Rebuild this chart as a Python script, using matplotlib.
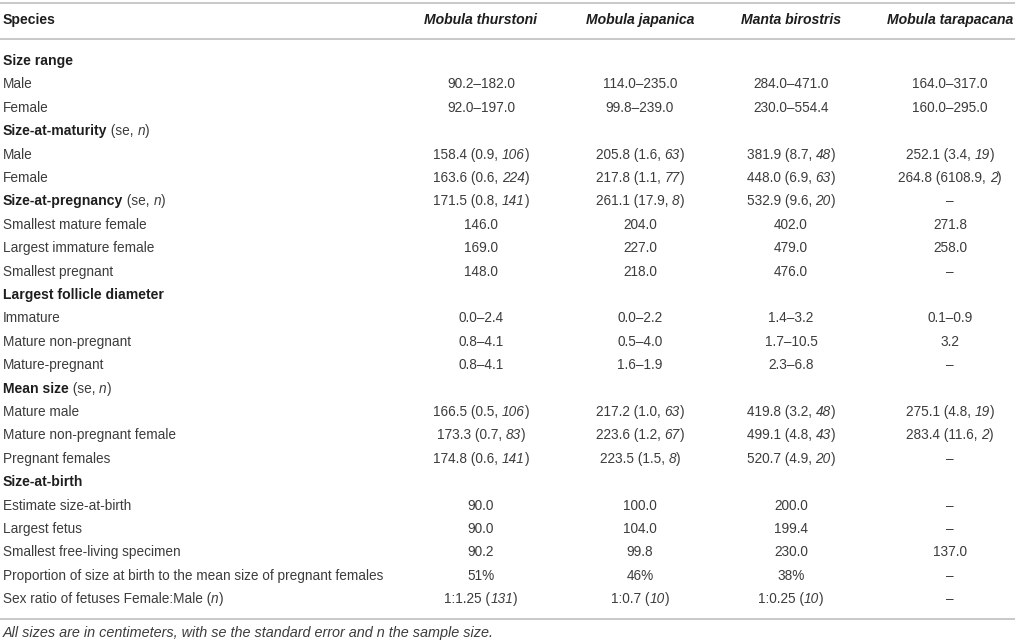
import re
import matplotlib.pyplot as plt

plt.rcParams['font.family'] = ['Liberation Sans', 'DejaVu Sans']

# markup: *bold*  _italic_
species = ["Mobula thurstoni", "Mobula japanica", "Manta birostris", "Mobula tarapacana"]

row_labels = [
    "*Size range*", "Male", "Female",
    "*Size-at-maturity* (se, _n_)", "Male", "Female",
    "*Size-at-pregnancy* (se, _n_)", "Smallest mature female",
    "Largest immature female", "Smallest pregnant",
    "*Largest follicle diameter*", "Immature", "Mature non-pregnant",
    "Mature-pregnant",
    "*Mean size* (se, _n_)", "Mature male", "Mature non-pregnant female",
    "Pregnant females",
    "*Size-at-birth*", "Estimate size-at-birth", "Largest fetus",
    "Smallest free-living specimen",
    "Proportion of size at birth to the mean size of pregnant females",
    "Sex ratio of fetuses Female:Male (_n_)",
]

thurstoni = ["", "90.2–182.0", "92.0–197.0", "", "158.4 (0.9, _106_)",
             "163.6 (0.6, _224_)", "171.5 (0.8, _141_)", "146.0", "169.0",
             "148.0", "", "0.0–2.4", "0.8–4.1", "0.8–4.1", "",
             "166.5 (0.5, _106_)", "173.3 (0.7, _83_)", "174.8 (0.6, _141_)",
             "", "90.0", "90.0", "90.2", "51%", "1:1.25 (_131_)"]
japanica = ["", "114.0–235.0", "99.8–239.0", "", "205.8 (1.6, _63_)",
            "217.8 (1.1, _77_)", "261.1 (17.9, _8_)", "204.0", "227.0",
            "218.0", "", "0.0–2.2", "0.5–4.0", "1.6–1.9", "",
            "217.2 (1.0, _63_)", "223.6 (1.2, _67_)", "223.5 (1.5, _8_)",
            "", "100.0", "104.0", "99.8", "46%", "1:0.7 (_10_)"]
birostris = ["", "284.0–471.0", "230.0–554.4", "", "381.9 (8.7, _48_)",
             "448.0 (6.9, _63_)", "532.9 (9.6, _20_)", "402.0", "479.0",
             "476.0", "", "1.4–3.2", "1.7–10.5", "2.3–6.8", "",
             "419.8 (3.2, _48_)", "499.1 (4.8, _43_)", "520.7 (4.9, _20_)",
             "", "200.0", "199.4", "230.0", "38%", "1:0.25 (_10_)"]
tarapacana = ["", "164.0–317.0", "160.0–295.0", "", "252.1 (3.4, _19_)",
              "264.8 (6108.9, _2_)", "–", "271.8", "258.0", "–", "",
              "0.1–0.9", "3.2", "–", "", "275.1 (4.8, _19_)",
              "283.4 (11.6, _2_)", "–", "", "–", "–", "137.0", "–", "–"]

columns = [thurstoni, japanica, birostris, tarapacana]
footnote = "All sizes are in centimeters, with se the standard error and n the sample size."

W, H = 1017, 642
fig = plt.figure(figsize=(W / 100, H / 100), dpi=100)
ax = fig.add_axes([0, 0, 1, 1])
ax.set_xlim(0, W)
ax.set_ylim(H, 0)
ax.axis('off')
renderer = fig.canvas.get_renderer()

FS = 9.8
FS_BOLD = 10.1
TXT = '#3c3c3c'
BOLD = '#1e1e1e'
col_x = [481, 640, 791, 950]
row_y0, row_dy = 61, 23.4


def seg_width(s, **kw):
    a = ax.text(0, 0, 'x' + s + 'x', **kw)
    b = ax.text(0, 0, 'xx', **kw)
    w = a.get_window_extent(renderer).width - b.get_window_extent(renderer).width
    a.remove()
    b.remove()
    return w


def rich(x, y, markup, ha='left', bold=False, italic=False, size=FS):
    parts = [p for p in re.split(r'(\*[^*]+\*|_[^_]+_)', markup) if p]
    segs = []
    for p in parts:
        w, st = ('bold' if bold else 'normal'), ('italic' if italic else 'normal')
        if p.startswith('*'):
            p, w = p[1:-1], 'bold'
        elif p.startswith('_'):
            p, st = p[1:-1], 'italic'
        kw = dict(fontsize=FS_BOLD if w == 'bold' else size, fontweight=w,
                  fontstyle=st, color=BOLD if w == 'bold' else TXT)
        segs.append((p, kw, seg_width(p, **kw)))
    total = sum(s[2] for s in segs)
    cx = x - total / 2 if ha == 'center' else x
    for p, kw, w in segs:
        ax.text(cx, y + 4, p, va='baseline', ha='left', **kw)
        cx += w


# rules
for yy in (3, 39, 619):
    ax.plot([0, 1015], [yy, yy], color='#b9b9b9', lw=1.1, solid_capstyle='butt')

# header
rich(3, 20, "*Species*")
for name, x in zip(species, col_x):
    rich(x, 20, name, ha='center', bold=True, italic=True)

# body
for i, lab in enumerate(row_labels):
    y = row_y0 + i * row_dy
    rich(3, y, lab)
    for col, x in zip(columns, col_x):
        if col[i]:
            rich(x, y, col[i], ha='center')

rich(3, 633, footnote, italic=True, size=10.4)

fig.savefig('out.png', dpi=100)
